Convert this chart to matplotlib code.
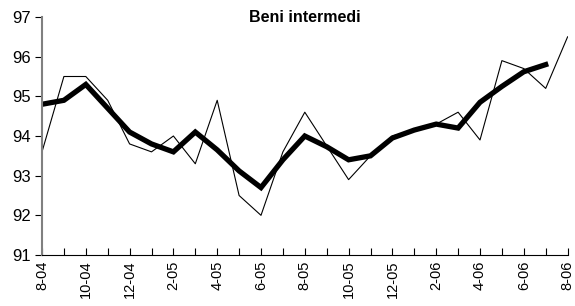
import matplotlib
matplotlib.use("Agg")
import matplotlib.pyplot as plt
from matplotlib import font_manager

fams = {f.name for f in font_manager.fontManager.ttflist}
fam = "Liberation Sans Narrow" if "Liberation Sans Narrow" in fams else "Liberation Sans"
plt.rcParams['font.family'] = [fam, 'DejaVu Sans']

months = ["8-04", "9-04", "10-04", "11-04", "12-04", "1-05", "2-05", "3-05", "4-05",
          "5-05", "6-05", "7-05", "8-05", "9-05", "10-05", "11-05", "12-05", "1-06",
          "2-06", "3-06", "4-06", "5-06", "6-06", "7-06", "8-06"]
monthly = [93.6, 95.5, 95.5, 94.9, 93.8, 93.6, 94.0, 93.3, 94.9, 92.5, 92.0, 93.6,
           94.6, 93.75, 92.9, 93.5, 94.0, 94.15, 94.3, 94.6, 93.9, 95.9, 95.7, 95.2, 96.5]
smoothed = [94.8, 94.9, 95.3, 94.7, 94.1, 93.8, 93.6, 94.1, 93.65, 93.12, 92.7, 93.4,
            94.0, 93.73, 93.4, 93.5, 93.95, 94.15, 94.3, 94.2, 94.85, 95.25, 95.62, 95.8]
title = "Beni intermedi"

fig = plt.figure(figsize=(5.75, 3.06), dpi=100)
ax = fig.add_axes([42/575, 1-255/306, (567.6-42)/575, (255-17)/306])

x = list(range(len(months)))
ax.plot(x, monthly, color="black", lw=0.8)
ax.plot(x[:len(smoothed)], smoothed, color="black", lw=3.8, solid_joinstyle="miter")

ax.set_xlim(0, len(months)-1)
ax.set_ylim(91, 97)
ax.set_yticks(range(91, 98))
ax.set_xticks(x)
ax.set_xticklabels([m if i % 2 == 0 else "" for i, m in enumerate(months)], rotation=90)
ax.tick_params(axis='x', direction='in', length=5, width=0.8, labelsize=10.5, pad=4)
ax.tick_params(axis='y', direction='out', length=5, width=0.8, labelsize=12, pad=3)
for s in ["top", "right"]:
    ax.spines[s].set_visible(False)
ax.spines["left"].set_color("#808080")
ax.spines["left"].set_linewidth(1.5)
ax.spines["bottom"].set_linewidth(0.8)

ax.text(0.5, 1.0, title, transform=ax.transAxes, ha="center", va="center",
        fontsize=11.5, fontweight="bold")

fig.savefig("out.png", dpi=100)
